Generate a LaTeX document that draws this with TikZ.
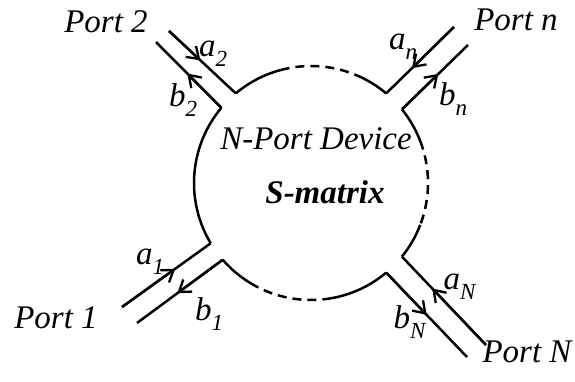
\documentclass[tikz,border=0pt]{standalone}
\usepackage{fontspec}
\setmainfont{Liberation Serif}
\usetikzlibrary{arrows.meta,calc}
\newcommand{\plbl}[2]{\textit{#1}\raisebox{-0.3em}{\fontsize{23}{25}\selectfont\textit{#2}}}
\begin{document}
\begin{tikzpicture}[x=1pt,y=-1pt,
  wire/.style={line width=2.5pt},
  dev/.style={line width=2.5pt},
  devdash/.style={line width=2.5pt, dash pattern=on 9pt off 6pt},
  flowtip/.style={line width=2.3pt, -{Straight Barb[length=11pt,width=15pt]}},
  txt/.style={font=\fontsize{33}{38}\selectfont\itshape, inner sep=0pt},
  sym/.style={font=\fontsize{33}{38}\selectfont, inner sep=0pt}
]
\useasboundingbox (0,0) rectangle (575,381);
\fill[white] (0,0) rectangle (575,381);
\coordinate (C) at (311,183);
% corners on the device circle
\coordinate (p2o) at ([shift={(C)}]130:117pt);
\coordinate (p2i) at ([shift={(C)}]140:117pt);
\coordinate (pno) at ([shift={(C)}]50:117pt);
\coordinate (pni) at ([shift={(C)}]39:117pt);
\coordinate (pNo) at ([shift={(C)}]-39:117pt);
\coordinate (pNi) at ([shift={(C)}]-50:117pt);
\coordinate (p1o) at ([shift={(C)}]-149:117pt);
\coordinate (p1i) at ([shift={(C)}]-139:117pt);
% outer ends of the port lines
\coordinate (p2oE) at (169,31);
\coordinate (p2iE) at (156,42);
\coordinate (pnoE) at (454,27);
\coordinate (pniE) at (468,45);
\coordinate (p1oE) at (122,307);
\coordinate (p1iE) at (137,323);
\coordinate (pNoE) at (486,345);
\coordinate (pNiE) at (467,357);
% device outline
\draw[dev] (p2i) arc[start angle=140, end angle=211, radius=117pt];
\draw[dev] (p2o) arc[start angle=130, end angle=105, radius=117pt];
\draw[devdash] ([shift={(C)}]105:117pt) arc[start angle=105, end angle=67, radius=117pt];
\draw[dev] ([shift={(C)}]67:117pt) arc[start angle=67, end angle=50, radius=117pt];
\draw[dev] (pni) arc[start angle=39, end angle=21, radius=117pt];
\draw[devdash] ([shift={(C)}]21:117pt) arc[start angle=21, end angle=-21, radius=117pt];
\draw[dev] ([shift={(C)}]-21:117pt) arc[start angle=-21, end angle=-39, radius=117pt];
\draw[dev] (pNi) arc[start angle=-50, end angle=-80, radius=117pt];
\draw[devdash] ([shift={(C)}]-80:117pt) arc[start angle=-80, end angle=-117, radius=117pt];
\draw[dev] ([shift={(C)}]-117:117pt) arc[start angle=-117, end angle=-139, radius=117pt];
% port lines
\draw[wire] (p2oE) -- (p2o);
\draw[wire] (p2i) -- (p2iE);
\draw[wire] (pnoE) -- (pno);
\draw[wire] (pni) -- (pniE);
\draw[wire] (p1oE) -- (p1o);
\draw[wire] (p1i) -- (p1iE);
\draw[wire] (pNoE) -- (pNo);
\draw[wire] (pNi) -- (pNiE);
% wave arrows
\draw[flowtip] (p2oE) -- ($(p2oE)!0.47!(p2o)$);
\draw[flowtip] (p2i) -- ($(p2i)!0.52!(p2iE)$);
\draw[flowtip] (pnoE) -- ($(pnoE)!0.62!(pno)$);
\draw[flowtip] (pni) -- ($(pni)!0.55!(pniE)$);
\draw[flowtip] (p1oE) -- ($(p1oE)!0.6!(p1o)$);
\draw[flowtip] (p1i) -- ($(p1i)!0.53!(p1iE)$);
\draw[flowtip] (pNoE) -- ($(pNoE)!0.64!(pNo)$);
\draw[flowtip] (pNi) -- ($(pNi)!0.5!(pNiE)$);
% labels
\node[txt] (t2) at (106,22) {Port 2};
\node[txt] (tn) at (516,20) {Port n};
\node[txt] (t1) at (56,318) {Port 1};
\node[txt] (tN) at (527,352) {Port N};
\node[sym] (la2) at (213,54) {\plbl{a}{2}};
\node[sym] (lb2) at (183,100) {\plbl{b}{2}};
\node[sym] (lan) at (403,47) {\plbl{a}{n}};
\node[sym] (lbn) at (453,99) {\plbl{b}{n}};
\node[sym] (la1) at (150,262) {\plbl{a}{1}};
\node[sym] (lb1) at (209,314) {\plbl{b}{1}};
\node[sym] (laN) at (460,287) {\plbl{a}{N}};
\node[sym] (lbN) at (410,322) {\plbl{b}{N}};
\node[txt] (dv) at (316,139) {N-Port Device};
\node[txt, font=\fontsize{33}{38}\selectfont\bfseries\itshape] (sm) at (325,192) {S-matrix};
\end{tikzpicture}
\end{document}
